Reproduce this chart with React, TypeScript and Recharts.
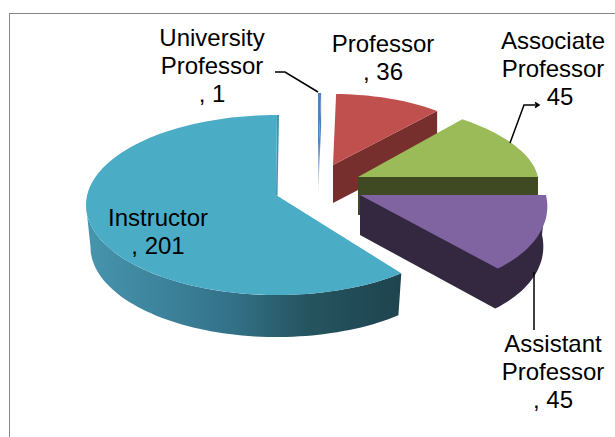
import React from "react";
import { PieChart, Pie } from "recharts";

const categories = ["University Professor", "Professor", "Associate Professor", "Assistant Professor", "Instructor"];
const counts = [1, 36, 45, 45, 201];
const labelLines = [
  ["University", "Professor", ", 1"],
  ["Professor", ", 36"],
  ["Associate", "Professor", "45"],
  ["Assistant", "Professor", ", 45"],
  ["Instructor", ", 201"],
];
const chartData = categories.map((name, i) => ({ name, value: counts[i], lines: labelLines[i] }));

type Geo = {
  ax: number; ay: number; cx: number; cy: number; rx: number; ry: number; k: number;
  depth: number; shrink: number; top: string; wall: string; outer: boolean; cut: boolean;
  lx: number; ly: number; lastDx?: number; leader?: string;
};

const geometry: Record<string, Geo> = {
  "University Professor": { ax: 318, ay: 165, cx: 318, cy: 165, rx: 160, ry: 72, k: 0, depth: 33, shrink: 0, top: "#4F81BD", wall: "url(#uniFade)", outer: false, cut: true, lx: 212, ly: 46, leader: "M275 72 L285 72 L318 92" },
  "Professor": { ax: 333, ay: 165, cx: 333, cy: 165, rx: 160, ry: 71, k: 0, depth: 38, shrink: 0, top: "#C0504D", wall: "#772F2D", outer: false, cut: true, lx: 383, ly: 52 },
  "Associate Professor": { ax: 358, ay: 177, cx: 358, cy: 177, rx: 180, ry: 76, k: 17, depth: 38, shrink: 0, top: "#9BBB59", wall: "#3F4A22", outer: false, cut: true, lx: 553, ly: 49, lastDx: 7, leader: "M510 143 L524 105 L538 105 M535 102.5 L539 105 L535 107.5" },
  "Assistant Professor": { ax: 360, ay: 195, cx: 360, cy: 195, rx: 186, ry: 97, k: 22, depth: 40, shrink: 4, top: "#8064A2", wall: "#33283F", outer: true, cut: true, lx: 553, ly: 352, leader: "M534 272 L534 330" },
  "Instructor": { ax: 276, ay: 195, cx: 277, cy: 205, rx: 191, ry: 90, k: 0, depth: 42, shrink: 4.5, top: "#4BACC6", wall: "url(#instWall)", outer: true, cut: false, lx: 158, ly: 226 },
};

const point = (g: Geo, theta: number, depth = 0, shrink = 0) => {
  const r = (theta * Math.PI) / 180;
  return [
    g.cx + (g.rx - shrink) * Math.sin(r) - g.k * Math.cos(r),
    g.cy - g.ry * Math.cos(r) + depth,
  ];
};

const arc = (g: Geo, a: number, b: number, depth = 0, shrink = 0) => {
  const n = Math.max(2, Math.ceil(Math.abs(b - a) / 2));
  const pts: number[][] = [];
  for (let i = 0; i <= n; i++) pts.push(point(g, a + ((b - a) * i) / n, depth, shrink));
  return pts;
};

const toPath = (pts: number[][]) => "M" + pts.map((p) => `${p[0].toFixed(1)} ${p[1].toFixed(1)}`).join(" L") + " Z";

const Slice3D = (props: any) => {
  const g = geometry[props.name];
  const a = 90 - props.startAngle;
  const b = 90 - props.endAngle;
  const isInstructor = props.name === "Instructor";
  const end = point(g, b);
  const start = point(g, a);
  const topPts = [[g.ax, g.ay], ...arc(g, a, b)];
  const apex = [g.ax, g.ay];
  const apexD = [g.ax, g.ay + g.depth];
  const cutWall = [apex, end, [end[0] - g.shrink, end[1] + g.depth], apexD];
  const merged = [apexD, ...arc(g, b, a, g.depth, g.shrink), start, apex];
  return (
    <g>
      {g.cut && !g.outer && <path d={toPath(cutWall)} fill={g.wall} />}
      {g.cut && g.outer && <path d={toPath(merged)} fill={g.wall} />}
      {isInstructor && (
        <>
          <path d={toPath([...arc(g, a, 270), ...arc(g, 270, a, g.depth, g.shrink)])} fill={g.wall} />
          <path d={toPath([apex, end, [end[0] + 2, end[1]], [g.ax + 1.5, g.ay + 1]])} fill="#3F93AB" />
        </>
      )}
      <path d={toPath(topPts)} fill={g.top} />
    </g>
  );
};

const SliceLabel = (props: any) => {
  const g = geometry[props.name];
  const lines: string[] = props.lines ?? props.payload?.lines ?? [];
  return (
    <g>
      {g.leader && <path d={g.leader} fill="none" stroke="#000" strokeWidth={1.5} />}
      <text x={g.lx} y={g.ly} textAnchor="middle" fill="#000" fontFamily="Liberation Sans, Arial, sans-serif" fontSize={24}>
        {lines.map((line, i) => (
          <tspan key={i} x={g.lx + (i === lines.length - 1 ? g.lastDx ?? 0 : 0)} y={g.ly + i * 27.8}>
            {line}
          </tspan>
        ))}
      </text>
    </g>
  );
};

export default function App() {
  return (
    <div style={{ position: "fixed", left: 0, top: 0, width: 615, height: 437, overflow: "hidden", background: "#fff" }}>
      <div style={{ position: "absolute", left: 9, top: 13, width: 640, height: 460, border: "1.5px solid #868686" }} />
      <div style={{ position: "absolute", left: 0, top: 0 }}>
        <PieChart width={615} height={437} margin={{ top: 0, right: 0, bottom: 0, left: 0 }}>
          <defs>
            <linearGradient id="instWall" gradientUnits="userSpaceOnUse" x1="85" y1="0" x2="403" y2="0">
              <stop offset="0" stopColor="#4795AE" />
              <stop offset="0.45" stopColor="#33738A" />
              <stop offset="0.7" stopColor="#25545F" />
              <stop offset="1" stopColor="#1E444F" />
            </linearGradient>
            <linearGradient id="uniFade" gradientUnits="userSpaceOnUse" x1="0" y1="140" x2="0" y2="198">
              <stop offset="0" stopColor="#4F81BD" />
              <stop offset="1" stopColor="#FFFFFF" />
            </linearGradient>
          </defs>
          <Pie
            data={chartData}
            dataKey="value"
            nameKey="name"
            cx={300}
            cy={200}
            outerRadius={150}
            startAngle={90}
            endAngle={-270}
            paddingAngle={0}
            shape={Slice3D}
            label={SliceLabel}
            labelLine={false}
            isAnimationActive={false}
          />
        </PieChart>
      </div>
    </div>
  );
}
